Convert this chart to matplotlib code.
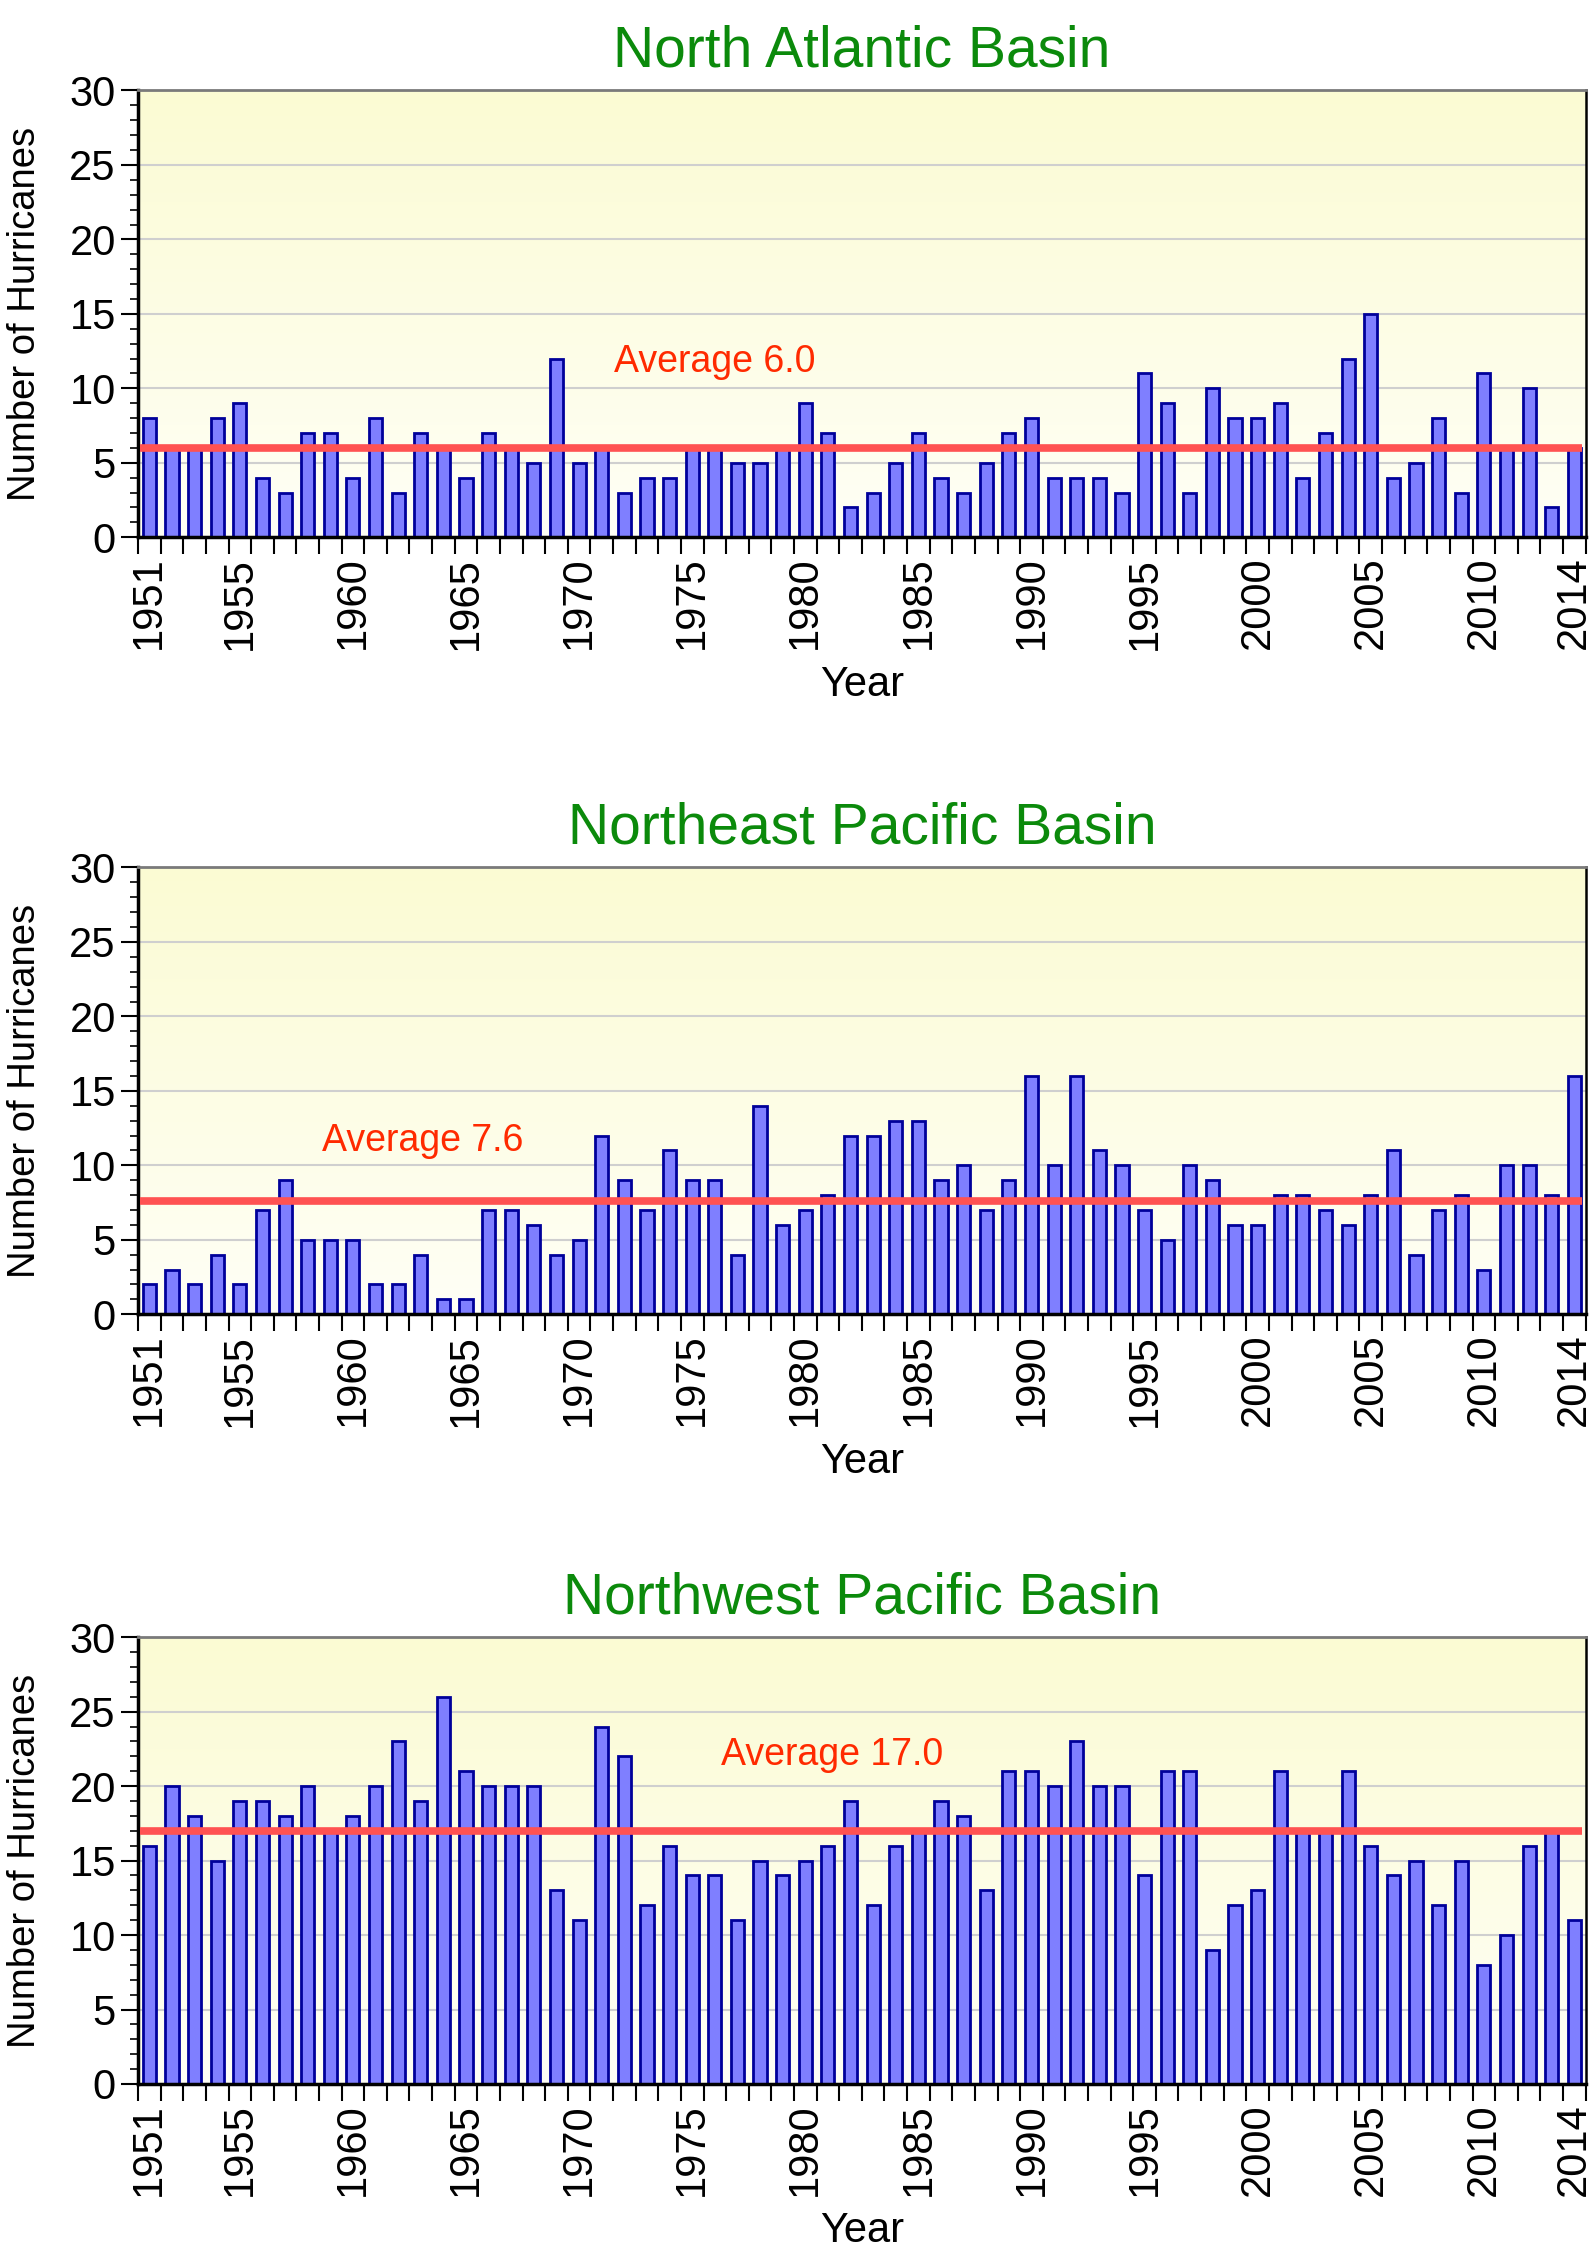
import numpy as np
import matplotlib
matplotlib.use('Agg')
import matplotlib.pyplot as plt
from matplotlib.colors import LinearSegmentedColormap
from matplotlib.ticker import FixedLocator, MultipleLocator

# hurricane counts per year
years = np.arange(1951, 2015)
north_atlantic = [8, 6, 6, 8, 9, 4, 3, 7, 7, 4,
                  8, 3, 7, 6, 4, 7, 6, 5, 12, 5,
                  6, 3, 4, 4, 6, 6, 5, 5, 6, 9,
                  7, 2, 3, 5, 7, 4, 3, 5, 7, 8,
                  4, 4, 4, 3, 11, 9, 3, 10, 8, 8,
                  9, 4, 7, 12, 15, 4, 5, 8, 3, 11,
                  6, 10, 2, 6]
northeast_pacific = [2, 3, 2, 4, 2, 7, 9, 5, 5, 5,
                     2, 2, 4, 1, 1, 7, 7, 6, 4, 5,
                     12, 9, 7, 11, 9, 9, 4, 14, 6, 7,
                     8, 12, 12, 13, 13, 9, 10, 7, 9, 16,
                     10, 16, 11, 10, 7, 5, 10, 9, 6, 6,
                     8, 8, 7, 6, 8, 11, 4, 7, 8, 3,
                     10, 10, 8, 16]
northwest_pacific = [16, 20, 18, 15, 19, 19, 18, 20, 17, 18,
                     20, 23, 19, 26, 21, 20, 20, 20, 13, 11,
                     24, 22, 12, 16, 14, 14, 11, 15, 14, 15,
                     16, 19, 12, 16, 17, 19, 18, 13, 21, 21,
                     20, 23, 20, 20, 14, 21, 21, 9, 12, 13,
                     21, 17, 17, 21, 16, 14, 15, 12, 15, 8,
                     10, 16, 17, 11]
basin_names = ['North Atlantic Basin', 'Northeast Pacific Basin', 'Northwest Pacific Basin']
averages = [6.0, 7.6, 17.0]
year_labels = [1951, 1955, 1960, 1965, 1970, 1975, 1980, 1985,
               1990, 1995, 2000, 2005, 2010, 2014]

series = [north_atlantic, northeast_pacific, northwest_pacific]

# layout
panel_bottoms = [0.7625, 0.4190, 0.0787]
avg_label_xy = [(1976.0, 11.8), (1963.1, 11.6), (1981.2, 22.1)]

plt.rcParams['font.family'] = ['Liberation Sans', 'DejaVu Sans']

bg_cmap = LinearSegmentedColormap.from_list('bg', ['#fffff6', '#fbfbd3'])

fig = plt.figure(figsize=(15.96, 22.62), dpi=100)

for name, vals, avg, bottom, (tx, ty) in zip(basin_names, series, averages,
                                             panel_bottoms, avg_label_xy):
    ax = fig.add_axes([0.0865, bottom, 0.907, 0.1975])
    x0, x1 = years[0] - 0.5, years[-1] + 0.5

    # pale yellow gradient background
    ax.imshow(np.linspace(0, 1, 256).reshape(-1, 1), cmap=bg_cmap,
              extent=[x0, x1, 0, 30], aspect='auto', origin='lower', zorder=0)

    ax.bar(years, vals, width=0.58, color='#7f7fff', edgecolor='#00009a',
           linewidth=2, zorder=2)
    ax.plot([x0 + 0.1, x1 - 0.15], [avg, avg], color='#ff5252', lw=5.5,
            solid_capstyle='butt', zorder=3)
    ax.text(tx, ty, f'Average {avg:.1f}', color='#ff2a00', fontsize=27,
            ha='center', va='center', zorder=4)

    ax.set_xlim(x0, x1)
    ax.set_ylim(0, 30)

    ax.set_axisbelow(True)
    ax.yaxis.grid(True, color='#cfcfcf', lw=1.5)

    ax.set_yticks(range(0, 31, 5))
    ax.yaxis.set_minor_locator(MultipleLocator(1))
    ax.tick_params(axis='y', which='major', length=12, width=1.5,
                   labelsize=30, pad=4)
    ax.tick_params(axis='y', which='minor', length=6, width=1.2)

    ax.set_xticks(year_labels)
    ax.set_xticklabels([str(y) for y in year_labels], rotation=90)
    ax.xaxis.set_minor_locator(FixedLocator(np.arange(x0, x1 + 0.01, 1)))
    ax.tick_params(axis='x', which='major', length=0, labelsize=30, pad=14)
    ax.tick_params(axis='x', which='minor', length=12, width=1.5)

    for side in ['left', 'bottom']:
        ax.spines[side].set_linewidth(2.5)
    ax.spines['right'].set_linewidth(1.8)
    ax.spines['top'].set_linewidth(2)
    ax.spines['top'].set_color('#7a7a7a')

    ax.set_title(name, fontsize=41, color='#0b8a0b', pad=17)
    ax.set_ylabel('Number of Hurricanes', fontsize=27.5)
    ax.yaxis.set_label_coords(-0.066, 0.5)
    ax.set_xlabel('Year', fontsize=30)
    ax.xaxis.set_label_coords(0.5, -0.285)

fig.savefig('out.png', dpi=100)
